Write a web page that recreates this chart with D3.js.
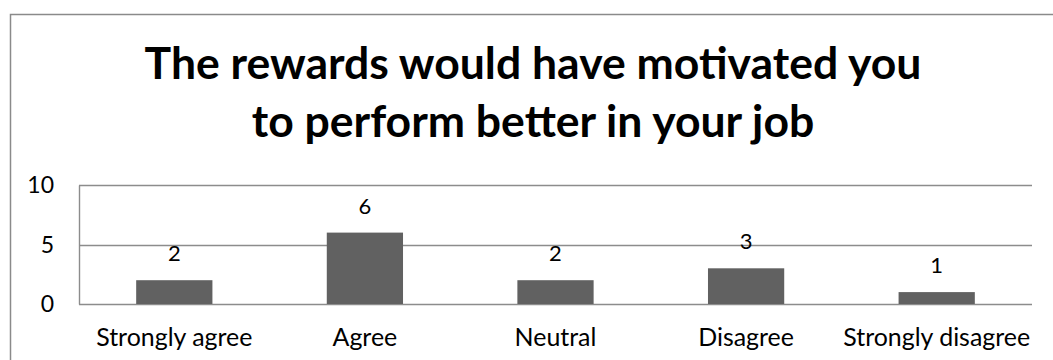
<!DOCTYPE html>
<html>
<head>
<meta charset="utf-8">
<script src="https://cdn.jsdelivr.net/npm/d3@7"></script>
<style>
  html, body { margin: 0; padding: 0; background: #fff; }
  svg { display: block; }
  text { font-family: Lato, "Open Sans", "DejaVu Sans", sans-serif; fill: #000; }
</style>
</head>
<body>
<svg id="chart" width="1053" height="360"></svg>
<script>
// Survey responses
const categories = ["Strongly agree", "Agree", "Neutral", "Disagree", "Strongly disagree"];
const counts = [2, 6, 2, 3, 1];
const yTicks = [0, 5, 10];
const titleLines = ["The rewards would have motivated you", "to perform better in your job"];

const W = 1053, H = 360;
const plot = { left: 79, right: 1032, top: 185, bottom: 304 };

const svg = d3.select("#chart");

// outer chart frame (runs off the right and bottom edges)
svg.append("rect")
  .attr("x", 10.5).attr("y", 14.5)
  .attr("width", W + 20).attr("height", H + 20)
  .attr("fill", "none").attr("stroke", "#8a8a8a").attr("stroke-width", 1.5);

// title, sized so the first line spans the heading width
const title = svg.append("g");
const tl = title.selectAll("text").data(titleLines).join("text")
  .attr("x", 533)
  .attr("y", (d, i) => [79, 137][i])
  .attr("text-anchor", "middle")
  .attr("font-weight", 700)
  .attr("font-size", 40)
  .text(d => d);
const w0 = tl.nodes()[0].getComputedTextLength();
tl.attr("font-size", 40 * 777 / w0);

const x = d3.scaleBand()
  .domain(categories)
  .range([plot.left, plot.right])
  .paddingInner(0.6)
  .paddingOuter(0.3);

const y = d3.scaleLinear().domain([0, 10]).range([plot.bottom, plot.top]);

// gridlines
svg.append("g").selectAll("line").data(yTicks).join("line")
  .attr("x1", plot.left).attr("x2", plot.right)
  .attr("y1", d => Math.round(y(d)) + 0.5).attr("y2", d => Math.round(y(d)) + 0.5)
  .attr("stroke", "#8c8c8c").attr("stroke-width", 1.4);

// value axis line
svg.append("line")
  .attr("x1", plot.left + 0.5).attr("x2", plot.left + 0.5)
  .attr("y1", Math.round(y(10)) + 0.5).attr("y2", Math.round(y(0)) + 0.5)
  .attr("stroke", "#8c8c8c").attr("stroke-width", 1.4);

// y tick labels
svg.append("g").selectAll("text").data(yTicks).join("text")
  .attr("x", 54)
  .attr("y", d => y(d))
  .attr("dy", "0.36em")
  .attr("text-anchor", "end")
  .attr("font-size", 23)
  .text(d => d);

// bars
svg.append("g").selectAll("rect").data(counts).join("rect")
  .attr("x", (d, i) => x(categories[i]))
  .attr("width", x.bandwidth())
  .attr("y", d => y(d))
  .attr("height", d => y(0) - y(d))
  .attr("fill", "#616161");

// value labels
svg.append("g").selectAll("text").data(counts).join("text")
  .attr("x", (d, i) => x(categories[i]) + x.bandwidth() / 2)
  .attr("y", d => y(d) - 19)
  .attr("text-anchor", "middle")
  .attr("font-size", 22)
  .text(d => d);

// category labels
const cl = svg.append("g").selectAll("text").data(categories).join("text")
  .attr("x", d => x(d) + x.bandwidth() / 2)
  .attr("y", 346)
  .attr("text-anchor", "middle")
  .attr("font-size", 24)
  .text(d => d);
const wLast = cl.nodes()[4].getComputedTextLength();
cl.attr("font-size", 24 * 187 / wLast);
</script>
</body>
</html>
